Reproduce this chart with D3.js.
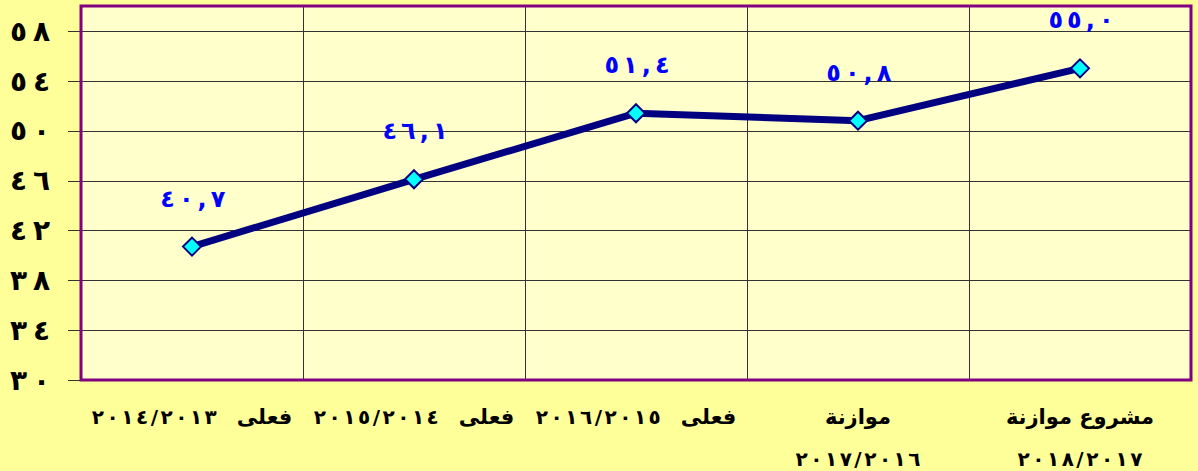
<!DOCTYPE html>
<html>
<head>
<meta charset="utf-8">
<script src="https://cdn.jsdelivr.net/npm/d3@7"></script>
<style>
  body { margin: 0; background: #ffff99; }
  svg { display: block; }
  text { font-family: "DejaVu Sans", sans-serif; font-weight: bold; }
</style>
</head>
<body>
<script>
// category labels (each inner array = wrapped lines)
var categories = ["c1", "c2", "c3", "c4", "c5"];
var categoryLines = [
  ["فعلى ٢٠١٤/٢٠١٣"],
  ["فعلى ٢٠١٥/٢٠١٤"],
  ["فعلى ٢٠١٦/٢٠١٥"],
  ["موازنة", "٢٠١٧/٢٠١٦"],
  ["مشروع موازنة", "٢٠١٨/٢٠١٧"]
];
var values = [40.7, 46.1, 51.4, 50.8, 55.0];
var valueLabels = ["٤٠,٧", "٤٦,١", "٥١,٤", "٥٠,٨", "٥٥,٠"];
var yTicks = [30, 34, 38, 42, 46, 50, 54, 58];
var yTickLabels = ["٣٠", "٣٤", "٣٨", "٤٢", "٤٦", "٥٠", "٥٤", "٥٨"];

var width = 1198, height = 471;
var plot = { left: 81, right: 1191, top: 6, bottom: 380 };

var svg = d3.select("body").append("svg")
  .attr("width", width)
  .attr("height", height);

svg.append("rect")
  .attr("width", width).attr("height", height)
  .attr("fill", "#ffff99");

var x = d3.scaleBand().domain(categories).range([plot.left, plot.right]).padding(0);
var y = d3.scaleLinear().domain([30, 60]).range([plot.bottom, plot.top]);

// per-character gaps (letter-spacing is ignored for arabic text)
function gaps(s, g) {
  return Array.from(s).map(function (c, i) { return i === 0 ? 0 : g; }).join(" ");
}

// shift a text so its box is centered on cx
function centerOn(sel, cx) {
  sel.each(function () {
    var b = this.getBBox();
    var x0 = +d3.select(this).attr("x");
    d3.select(this).attr("x", x0 + (cx - (b.x + b.width / 2)));
  });
}

// plot area background
svg.append("rect")
  .attr("x", plot.left).attr("y", plot.top)
  .attr("width", plot.right - plot.left)
  .attr("height", plot.bottom - plot.top)
  .attr("fill", "#ffffcc");

// horizontal grid + ticks
svg.append("g")
  .selectAll("line")
  .data(yTicks)
  .enter()
  .append("line")
  .attr("x1", plot.left - 13)
  .attr("x2", plot.right)
  .attr("y1", function (d) { return Math.round(y(d)) + 0.5; })
  .attr("y2", function (d) { return Math.round(y(d)) + 0.5; })
  .attr("stroke", "#333")
  .attr("stroke-width", 1);

// vertical grid at category boundaries
svg.append("g")
  .selectAll("line")
  .data(categories.slice(1))
  .enter()
  .append("line")
  .attr("x1", function (d) { return Math.round(x(d)) + 0.5; })
  .attr("x2", function (d) { return Math.round(x(d)) + 0.5; })
  .attr("y1", plot.top)
  .attr("y2", plot.bottom)
  .attr("stroke", "#333")
  .attr("stroke-width", 1);

// plot border
svg.append("rect")
  .attr("x", plot.left).attr("y", plot.top)
  .attr("width", plot.right - plot.left)
  .attr("height", plot.bottom - plot.top)
  .attr("fill", "none")
  .attr("stroke", "#800080")
  .attr("stroke-width", 3);

// y tick labels
svg.append("g")
  .selectAll("text")
  .data(yTicks)
  .enter()
  .append("text")
  .attr("x", 10)
  .attr("y", function (d) { return y(d); })
  .attr("dy", "0.35em")
  .attr("dx", function (d, i) { return gaps(yTickLabels[i], 6); })
  .attr("font-size", 28)
  .attr("fill", "#000")
  .text(function (d, i) { return yTickLabels[i]; });

// x labels: arabic words right, number (spaced digits) left
var lineGap = 20;
categories.forEach(function (cat, i) {
  var cx = x(cat) + x.bandwidth() / 2;
  categoryLines[i].forEach(function (txt, j) {
    var m = txt.match(/^(.*?)\s*([٠-٩\/]+)?$/);
    var word = m[1], num = m[2];
    var ly = 424 + j * 42;
    var g = svg.append("g");
    var wEl = null, nEl = null, ww = 0, nw = 0;
    if (word) {
      wEl = g.append("text")
        .attr("y", ly)
        .attr("direction", "rtl")
        .attr("font-size", 21)
        .attr("fill", "#000")
        .text(word);
      ww = wEl.node().getBBox().width;
    }
    if (num) {
      nEl = g.append("text")
        .attr("x", 0)
        .attr("y", ly)
        .attr("dx", gaps(num, 2.5))
        .attr("font-size", 20)
        .attr("fill", "#000")
        .text(num);
      nw = nEl.node().getBBox().width;
    }
    var total = ww + nw + (word && num ? lineGap : 0);
    var left = cx - total / 2;
    if (nEl) centerOn(nEl, left + nw / 2);
    if (wEl) centerOn(wEl.attr("x", 0), left + total - ww / 2);
  });
});

// line
var line = d3.line()
  .x(function (d, i) { return x(categories[i]) + x.bandwidth() / 2; })
  .y(function (d) { return y(d); });

svg.append("path")
  .datum(values)
  .attr("d", line)
  .attr("fill", "none")
  .attr("stroke", "#000080")
  .attr("stroke-width", 7)
  .attr("stroke-linejoin", "round");

// diamond markers
svg.append("g")
  .selectAll("path")
  .data(values)
  .enter()
  .append("path")
  .attr("transform", function (d, i) {
    return "translate(" + (x(categories[i]) + x.bandwidth() / 2) + "," + y(d) + ")";
  })
  .attr("d", "M0,-9L9,0L0,9L-9,0Z")
  .attr("fill", "#00ffff")
  .attr("stroke", "#000080")
  .attr("stroke-width", 2);

// value labels
svg.append("g")
  .selectAll("text")
  .data(values)
  .enter()
  .append("text")
  .attr("x", 0)
  .attr("y", function (d) { return y(d) - 40; })
  .attr("dx", function (d, i) { return gaps(valueLabels[i], 4); })
  .attr("font-size", 24)
  .attr("fill", "#0000ff")
  .text(function (d, i) { return valueLabels[i]; })
  .each(function (d, i) {
    centerOn(d3.select(this), x(categories[i]) + x.bandwidth() / 2 + 1);
  });
</script>
</body>
</html>
